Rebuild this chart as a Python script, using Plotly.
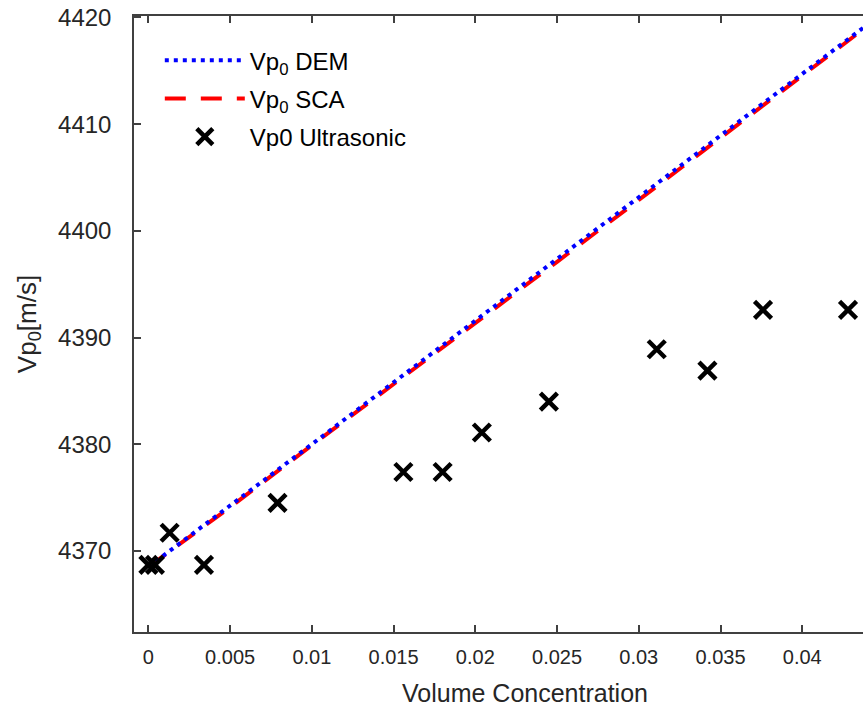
import plotly.graph_objects as go

# Model curves
model_x = [0.0, 0.005, 0.01, 0.015, 0.02, 0.025, 0.03, 0.035, 0.04, 0.045, 0.047]
dem_vp0 = [4368.5, 4374.2, 4380.0, 4385.8, 4391.6, 4397.3, 4403.1, 4408.9, 4414.7, 4420.5, 4422.8]
sca_vp0 = [4368.5, 4374.1, 4379.9, 4385.6, 4391.4, 4397.1, 4402.9, 4408.7, 4414.5, 4420.4, 4422.7]

# Ultrasonic measurements
meas_x = [0.0, 0.0004, 0.0013, 0.0034, 0.0079, 0.0156, 0.0180, 0.0204, 0.0245, 0.0311, 0.0342, 0.0376, 0.0428]
meas_vp0 = [4368.7, 4368.7, 4371.7, 4368.7, 4374.5, 4377.4, 4377.4, 4381.1, 4384.0, 4388.9, 4386.9, 4392.6, 4392.6]

x_ticks = [0, 0.005, 0.01, 0.015, 0.02, 0.025, 0.03, 0.035, 0.04]
x_tick_text = ["0", "0.005", "0.01", "0.015", "0.02", "0.025", "0.03", "0.035", "0.04"]
y_ticks = [4370, 4380, 4390, 4400, 4410, 4420]

FONT = "Liberation Sans, Arial, sans-serif"

fig = go.Figure()
fig.add_trace(go.Scatter(x=model_x, y=sca_vp0, mode="lines", name="Vp<sub>0</sub> SCA",
                         legendrank=2, legendgroup="b",
                         line=dict(color="#ff0000", width=4, dash="21px,15px")))
fig.add_trace(go.Scatter(x=model_x, y=dem_vp0, mode="lines", name="Vp<sub>0</sub> DEM",
                         legendrank=1, legendgroup="a",
                         line=dict(color="#0000ff", width=4, dash="4px,5px")))
fig.add_trace(go.Scatter(x=meas_x, y=meas_vp0, mode="markers", name="Vp0 Ultrasonic",
                         legendrank=3, legendgroup="c",
                         marker=dict(symbol="x-thin", size=17, color="black",
                                     line=dict(color="black", width=4.5))))

fig.update_layout(
    width=918, height=714,
    margin=dict(l=134, r=0, t=16, b=82),
    paper_bgcolor="white", plot_bgcolor="white",
    showlegend=True,
    legend=dict(x=0.033, y=0.964, xanchor="left", yanchor="top",
                bgcolor="rgba(0,0,0,0)", borderwidth=0,
                font=dict(family=FONT, size=24, color="black"),
                traceorder="grouped", tracegroupgap=4, itemwidth=80),
    xaxis=dict(range=[-0.00088, 0.04696], tickvals=x_ticks, ticktext=x_tick_text,
               ticks="inside", ticklen=7, tickwidth=1.5, tickcolor="#404040",
               showline=True, linecolor="#404040", linewidth=1.5, mirror="ticks",
               showgrid=False, zeroline=False, ticklabelstandoff=6,
               tickfont=dict(family=FONT, size=20, color="#262626"),
               title=dict(text="Volume Concentration", standoff=18,
                          font=dict(family=FONT, size=25, color="#262626"))),
    yaxis=dict(range=[4362.4, 4420.14], tickvals=y_ticks,
               ticks="inside", ticklen=7, tickwidth=1.5, tickcolor="#404040",
               showline=True, linecolor="#404040", linewidth=1.5, mirror="ticks",
               showgrid=False, zeroline=False, ticklabelstandoff=16,
               ticklabeloverflow="allow",
               tickfont=dict(family=FONT, size=24, color="#262626"),
               title=dict(text="Vp<sub>0</sub>[m/s]", standoff=14,
                          font=dict(family=FONT, size=26, color="#262626"))),
)

fig.write_html("out.html", config={"displayModeBar": False},
               post_script="document.body.style.margin='0';document.body.style.overflow='hidden';")
